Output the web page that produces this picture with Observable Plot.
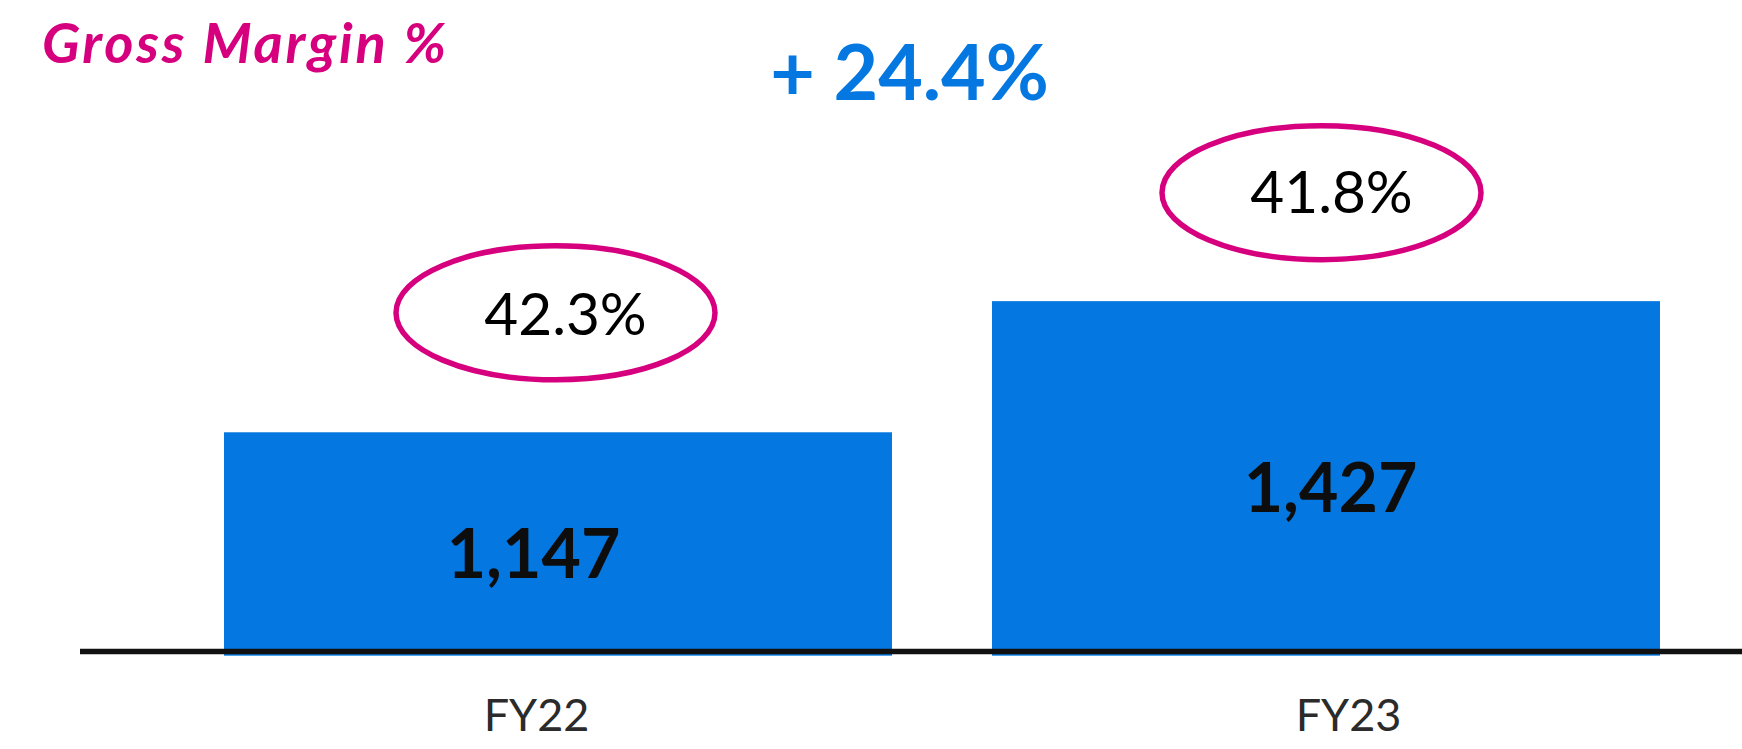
<!DOCTYPE html>
<html>
<head>
<meta charset="utf-8">
<script src="https://cdn.jsdelivr.net/npm/d3@7"></script>
<script src="https://cdn.jsdelivr.net/npm/@observablehq/plot@0.6"></script>
<style>
  html, body { margin: 0; padding: 0; background: #ffffff; }
  #wrap { position: relative; width: 1742px; height: 749px; overflow: hidden; }
  #title {
    position: absolute; left: 42px; top: 14px; margin: 0;
    font-family: Lato, "Open Sans", sans-serif; font-weight: 700; font-style: italic;
    font-size: 56px; line-height: 1; color: #D6007F; white-space: nowrap;
    letter-spacing: 2.8px;
  }
  #chart svg { display: block; }
</style>
</head>
<body>
<div id="wrap">
  <h1 id="title">Gross Margin %</h1>
  <div id="chart"></div>
</div>
<script>
// ---- data ----
const categories = ["FY22", "FY23"];
const grossProfit = [1147, 1427];
const grossMarginPct = [42.3, 41.8];
const growthLabel = "+ 24.4%";

// ---- styling / layout (not data) ----
const BLUE = "#0478E0";
const MAGENTA = "#D6007F";
const axisBase = 680;   // value where the baseline sits
const barBase = 670;    // bars extend slightly below the baseline as in the original
const nudge = {          // per-category pixel nudges [dx, dy]
  ellipse:    [[-3, -120], [-5, -109]],
  pct:        [[7, -117], [5, -107]],
  value:      [[-25, 14], [4, 14]],
  cat:        [[-22, 79], [22, 79]]
};

const data = categories.map((c, i) => ({cat: c, value: grossProfit[i], margin: grossMarginPct[i]}));

// ellipse symbol for Plot.dot
const ellipse = ratio => ({
  draw(context, size) {
    const rx = Math.sqrt(size / Math.PI), ry = rx * ratio, k = 0.5522847498;
    context.moveTo(rx, 0);
    context.bezierCurveTo(rx, ry * k, rx * k, ry, 0, ry);
    context.bezierCurveTo(-rx * k, ry, -rx, ry * k, -rx, 0);
    context.bezierCurveTo(-rx, -ry * k, -rx * k, -ry, 0, -ry);
    context.bezierCurveTo(rx * k, -ry, rx, -ry * k, rx, 0);
    context.closePath();
  }
});

const fmt = d3.format(",");

const perCategory = categories.flatMap((c, i) => {
  const sel = data.filter(d => d.cat === c);
  return [
    Plot.dot(sel, {
      x: "cat", y: "value", symbol: ellipse(0.42), r: 159.5,
      stroke: MAGENTA, strokeWidth: 5.5, fill: "white",
      dx: nudge.ellipse[i][0], dy: nudge.ellipse[i][1]
    }),
    Plot.text(sel, {
      x: "cat", y: "value", text: d => d.margin.toFixed(1) + "%",
      fontFamily: "Lato", fontSize: 58.5, fill: "#000000",
      dx: nudge.pct[i][0], dy: nudge.pct[i][1]
    }),
    Plot.text(sel, {
      x: "cat", y: d => (axisBase + d.value) / 2, text: d => fmt(d.value),
      fontFamily: "Lato", fontWeight: "bold", fontSize: 68, fill: "#0D0D0D",
      dx: nudge.value[i][0], dy: nudge.value[i][1]
    }),
    Plot.text(sel, {
      x: "cat", frameAnchor: "bottom", text: "cat",
      fontFamily: "Lato", fontSize: 45, fill: "#2B2B2B",
      dx: nudge.cat[i][0], dy: nudge.cat[i][1]
    })
  ];
});

const chart = Plot.plot({
  width: 1742,
  height: 749,
  marginLeft: 174,
  marginRight: 32,
  marginTop: 0,
  marginBottom: 98,
  style: {background: "white", overflow: "visible"},
  x: {domain: categories, paddingInner: 0.13, paddingOuter: 0.065, axis: null},
  y: {domain: [axisBase, 2070], axis: null},
  marks: [
    Plot.barY(data, {x: "cat", y1: barBase, y2: "value", fill: BLUE}),
    Plot.ruleY([axisBase], {stroke: "#111111", strokeWidth: 5.5, insetLeft: -94, insetRight: -32}),
    ...perCategory,
    Plot.text([growthLabel], {
      frameAnchor: "top", lineAnchor: "top", text: d => d,
      fontFamily: "Lato", fontWeight: "bold", fontSize: 77, fill: BLUE,
      dx: -33, dy: 45
    })
  ]
});
document.getElementById("chart").appendChild(chart);
</script>
</body>
</html>
